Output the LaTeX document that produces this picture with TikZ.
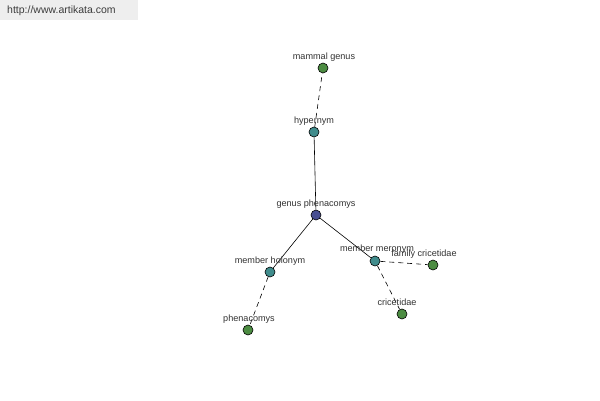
\documentclass[tikz,border=0pt]{standalone}
\usepackage{fontspec}
\setmainfont{Liberation Sans}
\begin{document}
\begin{tikzpicture}[x=1pt,y=-1pt,
  dot/.style={circle,draw=black,line width=0.6pt,minimum size=10pt,inner sep=0pt},
  gdot/.style={dot,fill={rgb,255:red,76;green,140;blue,66}},
  tdot/.style={dot,fill={rgb,255:red,64;green,140;blue,140}},
  bdot/.style={dot,fill={rgb,255:red,72;green,78;blue,145}},
  lbl/.style={font=\fontsize{9.1}{10}\selectfont,text={rgb,255:red,50;green,50;blue,50},inner sep=0pt},
  solidedge/.style={draw=black,line width=0.6pt},
  dashedge/.style={draw=black,line width=0.6pt,dash pattern=on 5pt off 4pt}]
\useasboundingbox (0,0) rectangle (600,400);
\fill[fill={rgb,255:red,238;green,238;blue,238}] (0,0) rectangle (138,20);
\node[anchor=west,inner sep=0pt,font=\fontsize{10.5}{12}\selectfont,text={rgb,255:red,60;green,60;blue,60}] (url) at (7,11) {http://www.artikata.com};

\node[gdot] (mg) at (323,68) {};
\node[tdot] (hy) at (314,132) {};
\node[bdot] (gp) at (316,215) {};
\node[tdot] (mh) at (270,272) {};
\node[tdot] (mm) at (375,261) {};
\node[gdot] (fc) at (433,265) {};
\node[gdot] (cr) at (402,314) {};
\node[gdot] (ph) at (248,330) {};

\draw[dashedge] (hy) -- (mg);
\draw[solidedge] (gp) -- (hy);
\draw[solidedge] (gp) -- (mh);
\draw[solidedge] (gp) -- (mm);
\draw[dashedge] (mh) -- (ph);
\draw[dashedge] (mm) -- (fc);
\draw[dashedge] (mm) -- (cr);

\node[lbl] (lmg) at (324,57) {mammal genus};
\node[lbl] (lhy) at (314,121) {hypernym};
\node[lbl] (lgp) at (316,204) {genus phenacomys};
\node[lbl] (lmh) at (270,261) {member holonym};
\node[lbl] (lmm) at (377,249) {member meronym};
\node[lbl] (lfc) at (424,254) {family cricetidae};
\node[lbl] (lcr) at (397,302) {cricetidae};
\node[lbl] (lph) at (249,319) {phenacomys};
\end{tikzpicture}
\end{document}
